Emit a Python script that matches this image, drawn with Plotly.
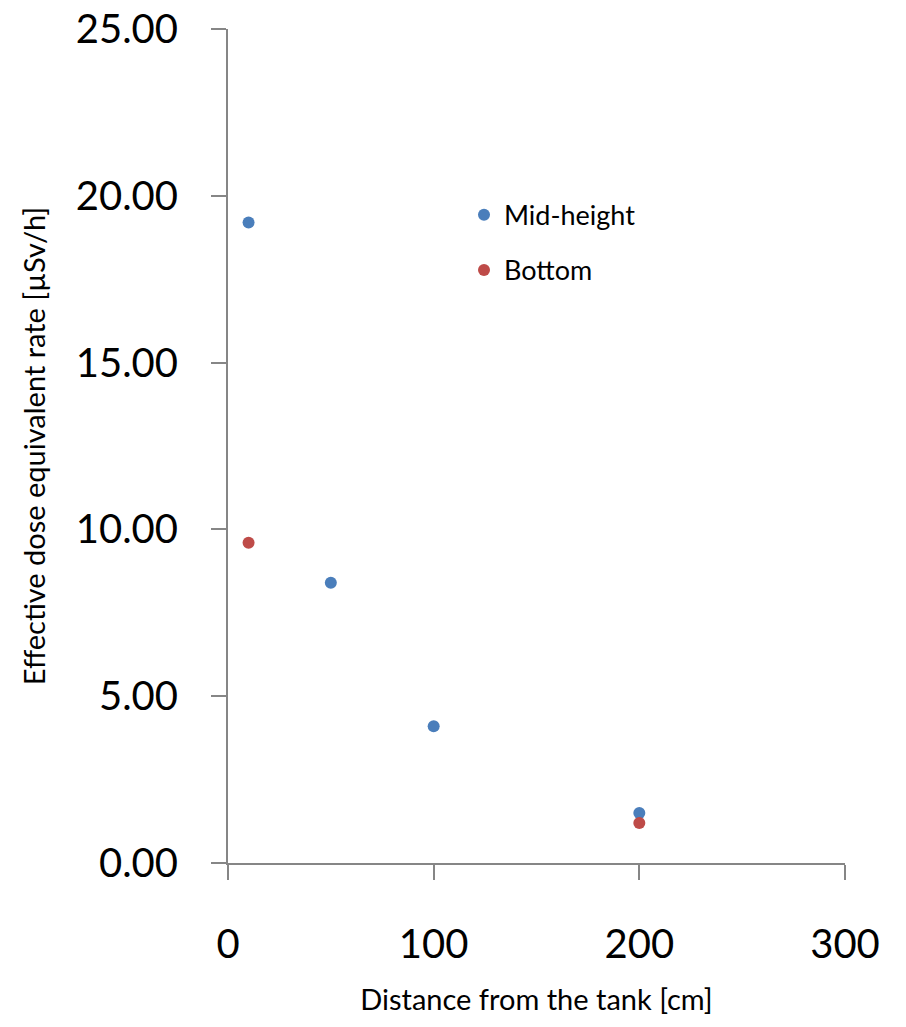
import plotly.graph_objects as go

mid_x = [10, 50, 100, 200]
mid_y = [19.2, 8.4, 4.1, 1.5]
bottom_x = [10, 200]
bottom_y = [9.6, 1.2]

y_ticks = [0, 5, 10, 15, 20, 25]
y_tick_text = ["0.00", "5.00", "10.00", "15.00", "20.00", "25.00"]
x_ticks = [0, 100, 200, 300]
x_tick_text = ["0", "100", "200", "300"]

FONT = "Lato"
AX = "#868686"

fig = go.Figure()
fig.add_trace(go.Scatter(x=mid_x, y=mid_y, mode="markers", name="Mid-height",
                         legendgroup="a",
                         marker=dict(color="#4A7EBB", size=12)))
fig.add_trace(go.Scatter(x=bottom_x, y=bottom_y, mode="markers", name="Bottom",
                         legendgroup="b",
                         marker=dict(color="#BE4B48", size=12)))

fig.update_layout(
    width=906, height=1027,
    margin=dict(l=228, r=61, t=29, b=164),
    paper_bgcolor="white", plot_bgcolor="white",
    font=dict(family=FONT, color="black"),
    showlegend=True,
    legend=dict(x=0.3825, y=0.806, xanchor="left", yanchor="top",
                font=dict(size=27, family=FONT), bgcolor="rgba(0,0,0,0)",
                traceorder="grouped", tracegroupgap=17, itemwidth=30),
    xaxis=dict(range=[0, 300], tickvals=x_ticks, ticktext=x_tick_text,
               showgrid=False, zeroline=False, showline=True, linecolor=AX,
               linewidth=2, ticks="outside", ticklen=15, tickcolor=AX, tickwidth=2,
               tickfont=dict(size=40, family=FONT), ticklabelstandoff=30,
               automargin=False,
               title=dict(text="Distance from the tank [cm]", font=dict(size=29, family=FONT),
                          standoff=24)),
    yaxis=dict(range=[0, 25], tickvals=y_ticks, ticktext=y_tick_text,
               showgrid=False, zeroline=False, showline=True, linecolor=AX,
               linewidth=2, ticks="outside", ticklen=15, tickcolor=AX, tickwidth=2,
               tickfont=dict(size=40, family=FONT), ticklabelstandoff=25,
               automargin=False,
               title=dict(text="Effective dose equivalent rate [µSv/h]",
                          font=dict(size=29, family=FONT), standoff=22)),
)

fig.write_html("out.html")
